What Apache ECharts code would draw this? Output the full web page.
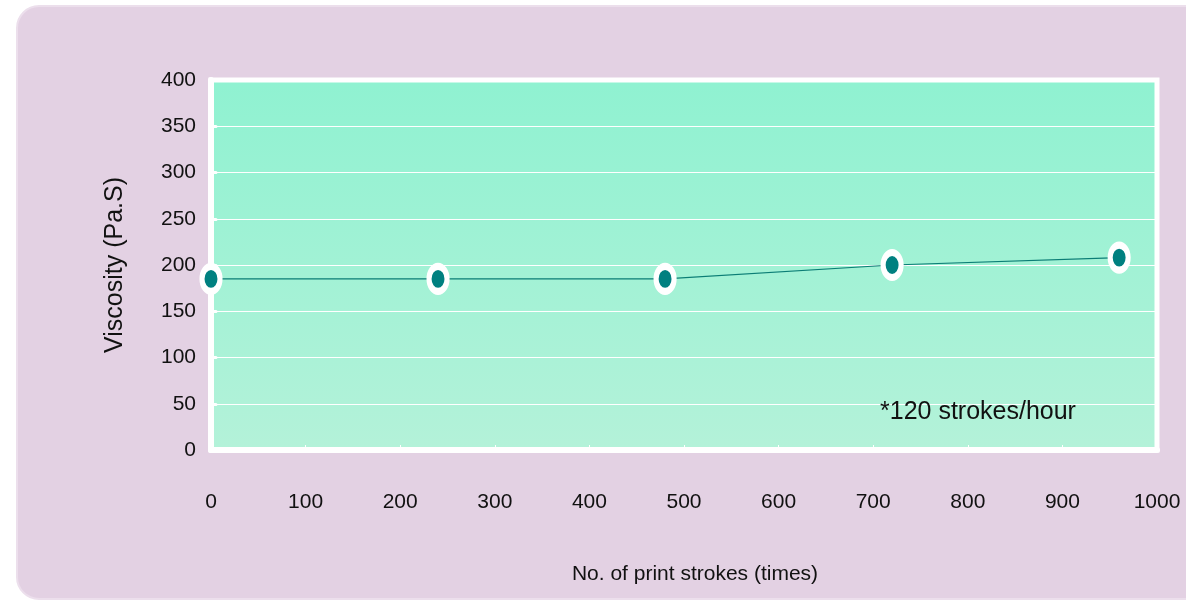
<!DOCTYPE html>
<html>
<head>
<meta charset="utf-8">
<script src="https://cdn.jsdelivr.net/npm/echarts@6/dist/echarts.min.js"></script>
<style>
  html, body { margin: 0; padding: 0; background: #ffffff; }
  #chart { width: 1186px; height: 600px; }
</style>
</head>
<body>
<div id="chart"></div>
<script>
// Viscosity measured over print strokes
const strokes = [0, 240, 480, 720, 960];
const viscosity = [185, 185, 185, 200, 208];
const yTicks = [0, 50, 100, 150, 200, 250, 300, 350, 400];
const xTicks = [0, 100, 200, 300, 400, 500, 600, 700, 800, 900, 1000];
const xAxisTitle = 'No. of print strokes (times)';
const yAxisTitle = 'Viscosity (Pa.S)';
const noteText = '*120 strokes/hour';

const chart = echarts.init(document.getElementById('chart'), null, { renderer: 'canvas' });

const narrow = '"Liberation Sans Narrow", "Arial Narrow", "Liberation Sans", Arial, sans-serif';
const regular = '"Liberation Sans", Arial, sans-serif';

chart.setOption({
  animation: false,
  backgroundColor: '#ffffff',
  graphic: [
    {
      type: 'rect',
      z: -10,
      shape: { x: 17, y: 6, width: 1200, height: 593, r: 22 },
      style: { fill: '#e3d1e3', stroke: '#ecdfec', lineWidth: 2 }
    },
    {
      type: 'text',
      z: 10,
      left: 880,
      top: 400,
      style: { text: noteText, font: '25px ' + regular, fill: '#111111' }
    }
  ],
  grid: {
    left: 211,
    right: 29,
    top: 80,
    bottom: 150,
    show: true,
    borderColor: '#ffffff',
    borderWidth: 5,
    backgroundColor: new echarts.graphic.LinearGradient(0, 0, 0, 1, [
      { offset: 0, color: '#8ff2d1' },
      { offset: 1, color: '#b4f2d9' }
    ])
  },
  xAxis: {
    type: 'value',
    min: xTicks[0],
    max: xTicks[xTicks.length - 1],
    interval: 100,
    name: xAxisTitle,
    nameLocation: 'middle',
    nameGap: 114,
    nameTextStyle: { fontFamily: narrow, fontSize: 21, color: '#111111', padding: [0, 0, 0, 22] },
    axisLine: { show: true, lineStyle: { color: '#ffffff', width: 6 } },
    axisTick: { show: true, inside: true, length: 5, lineStyle: { color: '#ffffff', width: 1 } },
    axisLabel: {
      margin: 42,
      fontFamily: narrow,
      fontSize: 21,
      color: '#111111',
      formatter: v => xTicks.includes(v) ? String(v) : ''
    },
    splitLine: { show: false }
  },
  yAxis: {
    type: 'value',
    min: yTicks[0],
    max: yTicks[yTicks.length - 1],
    interval: 50,
    name: yAxisTitle,
    nameLocation: 'middle',
    nameGap: 83,
    nameTextStyle: { fontFamily: regular, fontSize: 25, color: '#111111' },
    axisLine: { show: true, lineStyle: { color: '#ffffff', width: 6 } },
    axisTick: { show: true, inside: true, length: 5, lineStyle: { color: '#ffffff', width: 3, cap: 'round' } },
    axisLabel: {
      margin: 15,
      fontFamily: narrow,
      fontSize: 21,
      color: '#111111',
      padding: [0, 0, 6, 0],
      formatter: v => yTicks.includes(v) ? String(v) : ''
    },
    splitLine: { show: true, lineStyle: { color: '#ffffff', width: 1 } }
  },
  series: [
    {
      type: 'line',
      data: strokes.map((x, i) => [x, viscosity[i]]),
      lineStyle: { color: '#0b7d75', width: 1.2 },
      symbol: 'circle',
      symbolSize: [18, 25],
      itemStyle: { color: '#008080', borderColor: '#ffffff', borderWidth: 6 },
      clip: false,
      z: 5
    }
  ]
});
</script>
</body>
</html>
